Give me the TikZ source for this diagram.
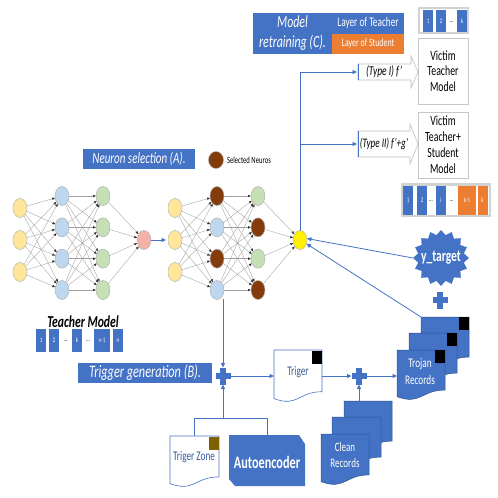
\documentclass[tikz,border=0pt]{standalone}
\usepackage{fontspec}
\setmainfont{Carlito}[FakeStretch=0.7]
\usetikzlibrary{arrows.meta,shapes.geometric}
\definecolor{bl}{HTML}{4472C4}
\definecolor{bld}{HTML}{2F528F}
\definecolor{org}{HTML}{ED7D31}
\definecolor{ny}{HTML}{FFE699}
\definecolor{nb}{HTML}{BDD7EE}
\definecolor{ng}{HTML}{C5E0B4}
\definecolor{np}{HTML}{F4B1A8}
\definecolor{nbr}{HTML}{843C0C}
\definecolor{zone}{HTML}{7F6000}
\newcommand{\docshape}[5]{%
 \path[#5] (#1,#2) -- (#3,#2) -- (#3,{#2+0.802*(#4-#2)}) .. controls ({(#1+#3)/2},{#2+0.802*(#4-#2)}) and ({(#1+#3)/2},{#2+1.107*(#4-#2)}) .. (#1,{#2+0.934*(#4-#2)}) -- cycle;}
\newcommand{\plussign}[3]{%
 \fill[bl] ({#1-7.5},{#2-2.6}) rectangle ({#1+7.5},{#2+2.6});
 \fill[bl] ({#1-2.6},{#2-8.5}) rectangle ({#1+2.6},{#2+8.5});
 \node[minimum width=15pt, minimum height=17pt] (#3) at (#1,#2) {};}
\newcommand{\fsz}[2]{\fontsize{#1}{#2}\selectfont}
\begin{document}
\begin{tikzpicture}[x=1pt,y=-1pt,
 every node/.style={inner sep=0pt, outer sep=0pt},
 neu/.style={ellipse, draw=gray!60, line width=0.5pt, minimum width=14pt, minimum height=19pt},
 nnedge/.style={draw=gray!75, line width=0.35pt, -{Latex[length=3pt,width=2.6pt,color=black!80]}},
 barrow/.style={draw=bl, line width=0.8pt, -{Triangle[length=4.5pt,width=4pt]}},
 bline/.style={draw=bl, line width=0.8pt},
 bluebox/.style={fill=bl, text=white},
 cell/.style={fill=bl, text=white, minimum width=10pt, font=\fsz{7}{7}},
 ocell/.style={cell, fill=org},
 dots/.style={font=\fsz{7}{7}},
 wdoc/.style={draw=bl, line width=0.6pt, fill=white},
 bdoc/.style={draw=bld, line width=0.5pt, fill=bl},
 victim/.style={draw=gray!45, line width=0.6pt, fill=white, minimum width=50pt, align=center, font=\fsz{14}{15.5}}
]
\useasboundingbox (0,0) rectangle (498,498);

% ---------- network 1 ----------
\foreach \i in {1,2,3} \node[neu, fill=ny] (a1-\i) at (20,{208+32*(\i-1)}) {};
\foreach \j/\c in {1/nb,2/nb,3/nb,4/nb} \node[neu, fill=\c] (b1-\j) at (62,{196+31.33*(\j-1)}) {};
\foreach \j/\c in {1/ng,2/ng,3/ng,4/ng} \node[neu, fill=\c] (c1-\j) at (103,{196+31.33*(\j-1)}) {};
\node[neu, fill=np] (o1) at (144,240) {};
\foreach \i in {1,2,3} \foreach \j in {1,...,4} \draw[nnedge] (a1-\i) -- (b1-\j);
\foreach \i in {1,...,4} \foreach \j in {1,...,4} \draw[nnedge] (b1-\i) -- (c1-\j);
\foreach \j in {1,...,4} \draw[nnedge] (c1-\j) -- (o1);

% ---------- network 2 ----------
\foreach \i in {1,2,3} \node[neu, fill=ny] (a2-\i) at (175,{208+32*(\i-1)}) {};
\foreach \j/\c in {1/nbr,2/nb,3/nbr,4/nb} \node[neu, fill=\c] (b2-\j) at (217,{196+31.33*(\j-1)}) {};
\foreach \j/\c in {1/ng,2/nbr,3/ng,4/nbr} \node[neu, fill=\c] (c2-\j) at (258,{196+31.33*(\j-1)}) {};
\node[neu, fill=yellow] (yel) at (300,240) {};
\foreach \i in {1,2,3} \foreach \j in {1,...,4} \draw[nnedge] (a2-\i) -- (b2-\j);
\foreach \i in {1,...,4} \foreach \j in {1,...,4} \draw[nnedge] (b2-\i) -- (c2-\j);
\foreach \j in {1,...,4} \draw[nnedge] (c2-\j) -- (yel);

\coordinate (n2in) at (166,240);
\draw[barrow] (o1) -- (n2in);

% ---------- neuron selection ----------
\node[bluebox, minimum width=112pt, minimum height=20pt, font=\itshape\fsz{15.7}{16}] (ns) at (139,159) {Neuron selection (A).};
\node[ellipse, draw=gray!60, fill=nbr, minimum width=15pt, minimum height=17pt] (selc) at (216,160) {};
\node[anchor=west, font=\fsz{9.5}{10}] (selt) at (227,160.5) {Selected Neuros};

% ---------- model retraining ----------
\node[bluebox, minimum width=79pt, minimum height=41pt, align=center, font=\itshape\fsz{17}{20}] (mr) at (292.5,33.5) {Model\\retraining (C).};
\node[bluebox, minimum width=72pt, minimum height=20.5pt, font=\fsz{13.2}{14}] (lt) at (368,23.25) {Layer of Teacher};
\node[fill=org, text=white, minimum width=72pt, minimum height=20.5pt, font=\fsz{11.3}{12}] (ls) at (368,43.75) {Layer of Student};

% teacher layer bar (top)
\fill[gray!35] (418,7) rectangle (469,34);
\fill[white] (420,9) rectangle (467,32);
\node[cell, minimum height=22.5pt] (tb1) at (428,21) {1};
\node[cell, minimum height=22.5pt] (tb2) at (441,21) {2};
\node[dots] (tbd) at (451.5,22) {...};
\node[cell, minimum height=22.5pt] (tbk) at (462,21) {k};

% victim boxes
\node[victim, minimum height=66pt] (vt) at (443,71) {Victim\\Teacher\\Model};
\node[victim, minimum height=66pt, font=\fsz{14}{16}] (vts) at (443,145) {Victim\\Teacher+\\Student\\Model};

% student layer bar
\fill[gray!35] (401,183) rectangle (491,217);
\fill[white] (403,185.5) rectangle (489,214.5);
\node[cell, minimum height=29pt] (sb1) at (408,200) {1};
\node[cell, minimum height=29pt] (sb2) at (422,200) {2};
\node[dots] (sbd1) at (431,201) {...};
\node[cell, minimum height=29pt] (sbi) at (440.5,200) {i};
\node[dots] (sbd2) at (451.5,201) {...};
\node[ocell, minimum height=29pt, minimum width=18pt] (sbk1) at (467,200) {k-1};
\node[ocell, minimum height=29pt] (sbk) at (482.5,200) {k};

% type arrows
\draw[draw=gray!50, line width=0.6pt, fill=white] (358,64) -- (411,64) -- (411,56) -- (418,72) -- (411,88) -- (411,80) -- (358,80) -- cycle;
\draw[bl, line width=1pt] (358,64) -- (358,80);
\node[font=\itshape\fsz{13.5}{14}] (ty1) at (384,72) {(Type I) f'};
\coordinate (t1w) at (357,72);
\draw[draw=gray!50, line width=0.6pt, fill=white] (358,131) -- (410,131) -- (410,124) -- (418,144) -- (410,164) -- (410,157) -- (358,157) -- cycle;
\draw[bl, line width=1pt] (358,131) -- (358,157);
\node[font=\itshape\fsz{13}{14}] (ty2) at (384,144) {(Type II) f'+g'};
\coordinate (t2w) at (357,144);

\coordinate (j1) at (300,72);
\coordinate (j2) at (300,144);
\draw[bline] (yel.north) -- (j1);
\draw[barrow] (j1) -- (t1w);
\draw[barrow] (j2) -- (t2w);

% ---------- y_target ----------
\node[star, star points=16, star point ratio=1.2, fill=bl, minimum size=56pt] (yt) at (441,258) {};
\node[text=white, font=\bfseries\fsz{16.5}{17}] (ytl) at (441,258) {y\_target};
\plussign{440}{300}{pl3}

% ---------- Trojan records ----------
\docshape{421}{317}{469}{367}{bdoc}
\fill[black] (459,317) rectangle (469,330);
\docshape{409}{333}{457}{383}{bdoc}
\fill[black] (447,333) rectangle (457,346);
\docshape{397}{350}{445}{400}{bdoc}
\fill[black] (435,350) rectangle (445,363);
\node[text=white, align=center, font=\fsz{13.2}{17}] (troj) at (420,372) {Trojan\\Records};
\coordinate (trb) at (421,317);
\coordinate (trw) at (397,376);

\draw[barrow] (yt.west) -- (yel.12);
\draw[barrow] (trb) -- (yel.-30);

% ---------- teacher model ----------
\node[font=\bfseries\itshape\fsz{16.7}{17}] (tm) at (83,322) {Teacher Model};
\node[cell, minimum height=23pt] (m1) at (41,340.5) {1};
\node[cell, minimum height=23pt] (m2) at (54,340.5) {2};
\node[dots] (md1) at (65.5,341.5) {...};
\node[cell, minimum height=23pt] (mk) at (77,340.5) {k};
\node[dots] (md2) at (88,341.5) {...};
\node[cell, minimum height=23pt, minimum width=16pt] (mn1) at (102,340.5) {n-1};
\node[cell, minimum height=23pt] (mn) at (118,340.5) {n};

% ---------- trigger generation ----------
\node[bluebox, minimum width=134pt, minimum height=20pt, font=\itshape\fsz{17.5}{18}] (tg) at (145,373) {Trigger generation (B).};
\plussign{223}{376}{pl1}
\coordinate (n2out) at (223,299);
\draw[barrow] (n2out) -- (pl1.north);

% triger doc
\docshape{274}{350}{322}{402}{wdoc}
\fill[black] (312,350.5) rectangle (322,364);
\node[text=bl!80!black, font=\fsz{13.2}{14}] (trig) at (298,372) {Triger};
\coordinate (trigw) at (274,376);
\coordinate (trige) at (322,376);
\draw[barrow] (pl1.east) -- (trigw);

\plussign{359}{376}{pl2}
\draw[barrow] (trige) -- (pl2.west);
\draw[barrow] (pl2.east) -- (trw);

% clean records
\docshape{344}{401}{392}{451}{bdoc}
\docshape{332}{417}{381}{467}{bdoc}
\docshape{321}{434}{369}{485}{bdoc}
\node[text=white, align=center, font=\fsz{12.9}{15.5}] (clean) at (345,455) {Clean\\Records};
\coordinate (cln) at (359,401);
\draw[barrow] (cln) -- (pl2.south);

% trigger zone + autoencoder
\docshape{170}{436}{219}{487}{wdoc}
\fill[zone] (209,436.5) rectangle (219,450);
\node[text=bl!80!black, font=\fsz{13.2}{14}] (tz) at (194,457.5) {Triger Zone};
\fill[bl] (229,435) -- (299,435) -- (305,444) -- (305,486) -- (235,486) -- (229,479) -- cycle;
\node[text=white, font=\bfseries\fsz{17.5}{18}] (ae) at (267,462) {Autoencoder};
\coordinate (br) at (223,418);
\coordinate (brl) at (194,418);
\coordinate (brr) at (267,418);
\coordinate (tzn) at (194,436);
\coordinate (aen) at (267,435);
\draw[bline] (tzn) -- (brl) -- (brr) -- (aen);
\draw[barrow] (br) -- (pl1.south);
\end{tikzpicture}
\end{document}
